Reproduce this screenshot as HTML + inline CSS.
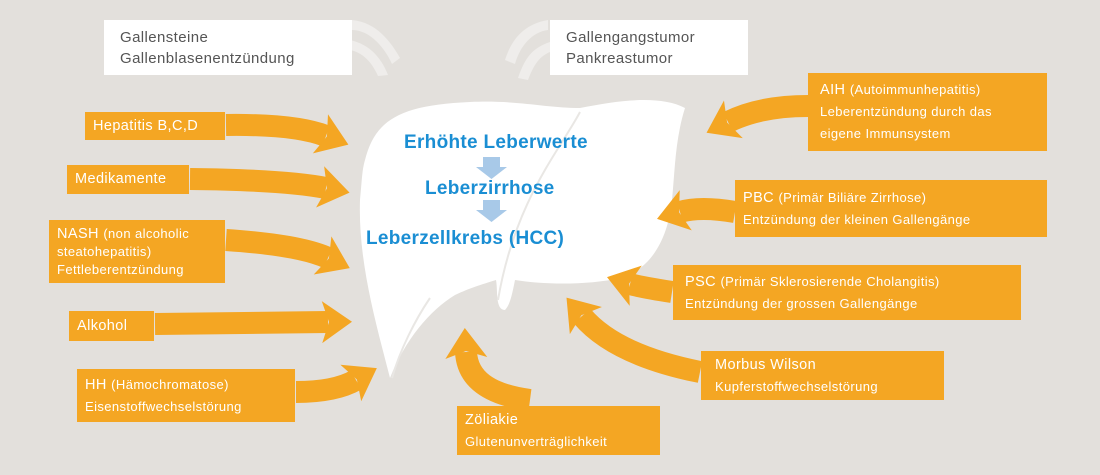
<!DOCTYPE html>
<html><head><meta charset="utf-8"><style>
body{margin:0;background:#e3e0dc;}
#c{position:relative;width:1100px;height:475px;overflow:hidden;background:#e3e0dc;font-family:"Liberation Sans",sans-serif;}
.b{position:absolute;background:#f4a623;color:#fff;font-size:14.5px;letter-spacing:.4px;line-height:19px;padding:0 8px;box-sizing:border-box;display:flex;flex-direction:column;justify-content:center;}
.b small{font-size:13px;}
.w{position:absolute;background:#fff;color:#555;font-size:15px;letter-spacing:.4px;line-height:21px;padding-left:16px;box-sizing:border-box;display:flex;flex-direction:column;justify-content:center;}
.t{position:absolute;color:#1a8ed3;font-weight:bold;font-size:19px;letter-spacing:.3px;}
svg{position:absolute;left:0;top:0;}
</style></head><body><div id="c">
<svg width="1100" height="475">
<defs>
<marker id="h" markerUnits="userSpaceOnUse" markerWidth="50" markerHeight="50" refX="8" refY="25" orient="auto">
<path d="M2,4 L32,25 L2,46 L9,25 Z" fill="#f4a623"/></marker>
</defs>
<g fill="#f2f1ef" opacity=".8">
<path d="M352,20 C375,22 390,40 400,58 L392,64 C385,48 370,30 352,30 Z"/>
<path d="M350,40 C372,45 382,60 388,75 L378,76 C372,62 362,52 350,50 Z"/>
<path d="M548,20 C525,24 512,38 505,60 L515,64 C520,46 532,32 548,30 Z"/>
<path d="M550,42 C532,48 525,58 518,78 L528,80 C534,64 540,56 550,52 Z"/>
</g>
<path d="M365,160 C375,120 400,105 470,102 C520,100 545,108 580,108 C620,100 660,95 685,108 C675,140 675,170 672,200 C668,240 650,270 620,278 C590,285 545,285 515,280 C512,295 510,305 505,310 C495,310 498,290 496,280 C480,285 470,288 455,295 C430,310 405,340 390,378 C375,320 358,260 360,200 C362,180 362,170 365,160 Z" fill="#fff"/>
<path d="M580,112 C560,150 515,200 498,300 M430,298 C415,320 400,350 392,378" stroke="#e9e7e4" stroke-width="2" fill="none"/>
<g stroke="#f4a623" stroke-width="22" fill="none" marker-end="url(#h)">
<path d="M226,125 Q295,124 326,136"/>
<path d="M190,179 Q285,180 326,188"/>
<path d="M226,240 Q300,245 328,258"/>
<path d="M155,324 L328,322"/>
<path d="M296,392 Q335,392 356,380"/>
<path d="M530,400 Q468,392 466,352"/>
<path d="M700,372 Q615,355 582,316"/>
<path d="M672,292 Q640,287 630,284"/>
<path d="M735,212 Q700,206 680,212"/>
<path d="M808,106 Q760,106 728,122"/>
</g>
</svg>
<div class="w" style="left:104px;top:20px;width:248px;height:55px">Gallensteine<br>Gallenblasenentzündung</div>
<div class="w" style="left:550px;top:20px;width:198px;height:55px">Gallengangstumor<br>Pankreastumor</div>
<div class="b" style="left:85px;top:112px;width:140px;height:28px">Hepatitis B,C,D</div>
<div class="b" style="left:67px;top:165px;width:122px;height:29px">Medikamente</div>
<div class="b" style="left:49px;top:220px;width:176px;height:63px;line-height:18px"><div>NASH <small>(non alcoholic<br>steatohepatitis)<br>Fettleberentzündung</small></div></div>
<div class="b" style="left:69px;top:311px;width:85px;height:30px">Alkohol</div>
<div class="b" style="left:77px;top:369px;width:218px;height:53px;line-height:21px"><div>HH <small>(Hämochromatose)</small></div><small>Eisenstoffwechselstörung</small></div>
<div class="b" style="left:457px;top:406px;width:203px;height:49px;line-height:21px"><div>Zöliakie</div><small>Glutenunverträglichkeit</small></div>
<div class="b" style="left:701px;top:351px;width:243px;height:49px;line-height:21px;padding-left:14px"><div>Morbus Wilson</div><small>Kupferstoffwechselstörung</small></div>
<div class="b" style="left:673px;top:265px;width:348px;height:55px;line-height:21px;padding-left:12px"><div>PSC <small>(Primär Sklerosierende Cholangitis)</small></div><small>Entzündung der grossen Gallengänge</small></div>
<div class="b" style="left:735px;top:180px;width:312px;height:57px;line-height:22px"><div>PBC <small>(Primär Biliäre Zirrhose)</small></div><small>Entzündung der kleinen Gallengänge</small></div>
<div class="b" style="left:808px;top:73px;width:239px;height:78px;line-height:22px;padding-left:12px"><div>AIH <small>(Autoimmunhepatitis)</small></div><small>Leberentzündung durch das<br>eigene Immunsystem</small></div>
<svg width="1100" height="475">
<g fill="#a8c9e8">
<path d="M483,157 h17 v10 h7 l-15.5,12 l-15.5,-12 h7 Z"/>
<path d="M483,200 h17 v10 h7 l-15.5,12 l-15.5,-12 h7 Z"/>
</g></svg>
<div class="t" style="left:404px;top:132px">Erhöhte Leberwerte</div>
<div class="t" style="left:425px;top:178px">Leberzirrhose</div>
<div class="t" style="left:366px;top:228px">Leberzellkrebs (HCC)</div>
</div></body></html>
